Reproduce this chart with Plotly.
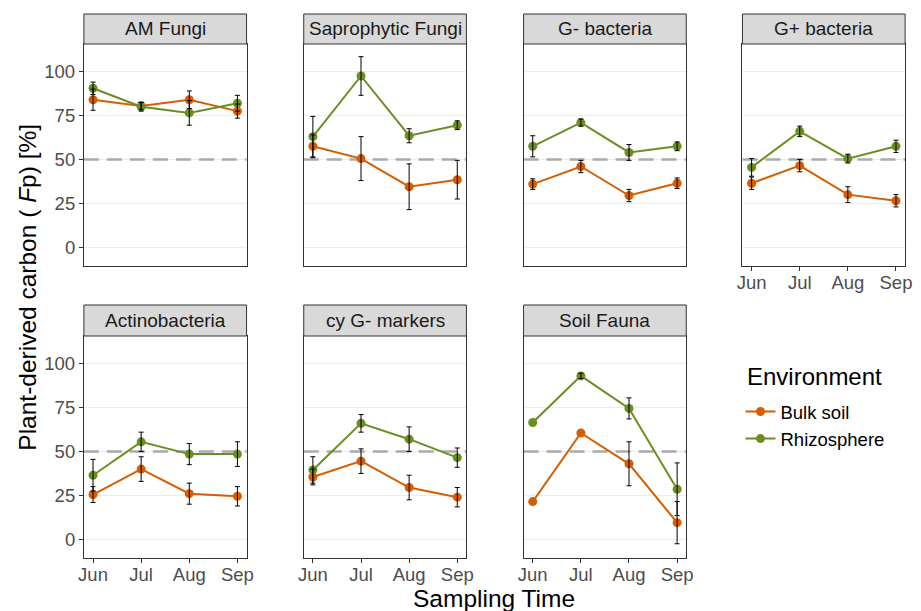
import plotly.graph_objects as go

months = ["Jun", "Jul", "Aug", "Sep"]
panels = ["AM Fungi", "Saprophytic Fungi", "G- bacteria", "G+ bacteria",
          "Actinobacteria", "cy G- markers", "Soil Fauna"]

am_bulk = [84, 80.5, 84, 77.5]
am_bulk_err = [6, 2, 5, 4]
am_rhizo = [90.5, 80, 76.5, 82]
am_rhizo_err = [3.5, 2.5, 7, 4.5]

sap_bulk = [57.5, 50.5, 34.5, 38.5]
sap_bulk_err = [6.5, 12.5, 13, 11]
sap_rhizo = [63, 97.5, 63.5, 69.5]
sap_rhizo_err = [11.5, 11, 4, 2.5]

gneg_bulk = [36, 46, 29.5, 36.5]
gneg_bulk_err = [3, 3.5, 3.5, 3]
gneg_rhizo = [57.5, 71, 54, 57.5]
gneg_rhizo_err = [6, 2, 4.5, 2.5]

gpos_bulk = [36.5, 46.5, 30, 26.5]
gpos_bulk_err = [3.5, 3.5, 4.5, 3.5]
gpos_rhizo = [45.5, 66, 50.5, 57.5]
gpos_rhizo_err = [5, 3, 2.5, 3.5]

act_bulk = [25.5, 40, 26, 24.5]
act_bulk_err = [4.5, 7, 6, 5.5]
act_rhizo = [36.5, 55.5, 48.5, 48.5]
act_rhizo_err = [9, 5.5, 6, 7]

cyg_bulk = [35.5, 44.5, 29.5, 24]
cyg_bulk_err = [4.5, 7, 7, 5.5]
cyg_rhizo = [39.5, 66, 57, 46.5]
cyg_rhizo_err = [7.5, 5, 7, 5.5]

fauna_bulk = [21.5, 60.5, 43, 9.5]
fauna_bulk_err = [None, None, 12.5, 12]
fauna_rhizo = [66.5, 93, 74.5, 28.5]
fauna_rhizo_err = [None, 1.5, 6, 15]

bulk = [am_bulk, sap_bulk, gneg_bulk, gpos_bulk, act_bulk, cyg_bulk, fauna_bulk]
bulk_err = [am_bulk_err, sap_bulk_err, gneg_bulk_err, gpos_bulk_err, act_bulk_err, cyg_bulk_err, fauna_bulk_err]
rhizo = [am_rhizo, sap_rhizo, gneg_rhizo, gpos_rhizo, act_rhizo, cyg_rhizo, fauna_rhizo]
rhizo_err = [am_rhizo_err, sap_rhizo_err, gneg_rhizo_err, gpos_rhizo_err, act_rhizo_err, cyg_rhizo_err, fauna_rhizo_err]

reference_line = 50
y_ticks = [0, 25, 50, 75, 100]

W, H = 921, 611
FONT = "Liberation Sans, Arial, sans-serif"
C_BULK = "#D55E00"
C_RHIZO = "#6B8E23"

cols = [(79, 244), (302, 467), (525, 690), (747, 912)]
rows = [(44, 266, 14), (336, 558, 305)]  # plot top, plot bottom, strip top

def fx(px):
    return px / W

def fy(px):
    return 1 - px / H

fig = go.Figure()
shapes = []
annotations = []

for i, name in enumerate(panels):
    r, c = divmod(i, 4)
    x0, x1 = cols[c]
    top, bot, stop = rows[r]
    n = i + 1
    xa = "xaxis" if n == 1 else f"xaxis{n}"
    ya = "yaxis" if n == 1 else f"yaxis{n}"
    xr = "x" if n == 1 else f"x{n}"
    yr = "y" if n == 1 else f"y{n}"
    show_x = (r == 1) or (i == 3)
    show_y = (c == 0)
    fig.layout[xa] = dict(
        domain=[fx(x0), fx(x1)], anchor=yr, type="category",
        categoryorder="array", categoryarray=months,
        range=[-0.19, 3.19], showgrid=False, zeroline=False,
        showline=True, mirror=True, linecolor="#333333", linewidth=1,
        ticks="outside" if show_x else "", ticklen=4, tickcolor="#333333",
        showticklabels=show_x, ticklabelstandoff=-4,
        tickfont=dict(family=FONT, size=18.5, color="#4D4D4D"),
        fixedrange=True,
    )
    fig.layout[ya] = dict(
        domain=[fy(bot), fy(top)], anchor=xr,
        range=[-10.6, 115.7], tickvals=y_ticks,
        showgrid=False, zeroline=False,
        showline=True, mirror=True, linecolor="#333333", linewidth=1,
        ticks="outside" if show_y else "", ticklen=4, tickcolor="#333333",
        showticklabels=show_y,
        tickfont=dict(family=FONT, size=18.5, color="#4D4D4D"),
        fixedrange=True,
    )
    # horizontal grid lines
    for t in y_ticks:
        shapes.append(dict(type="line", xref=f"{xr} domain", yref=yr,
                           x0=0, x1=1, y0=t, y1=t,
                           line=dict(color="#EBEBEB", width=1), layer="below"))
    # dashed 50% reference
    shapes.append(dict(type="line", xref=f"{xr} domain", yref=yr,
                       x0=0, x1=1, y0=reference_line, y1=reference_line,
                       line=dict(color="#AAAAAA", width=2.5, dash="15px,8px"),
                       layer="below"))
    # strip
    shapes.append(dict(type="rect", xref="paper", yref="paper",
                       x0=fx(x0), x1=fx(x1), y0=fy(top), y1=fy(stop),
                       fillcolor="#D9D9D9", line=dict(color="#333333", width=1),
                       layer="above"))
    annotations.append(dict(text=name, xref="paper", yref="paper",
                            x=fx((x0 + x1) / 2), y=fy((top + stop) / 2),
                            xanchor="center", yanchor="middle", showarrow=False,
                            font=dict(family=FONT, size=19, color="#1A1A1A")))

    for label, vals, col in [("Bulk soil", bulk[i], C_BULK),
                             ("Rhizosphere", rhizo[i], C_RHIZO)]:
        fig.add_trace(go.Scatter(
            x=months, y=vals, mode="lines+markers", name=label,
            legendgroup=label, showlegend=(i == 0),
            line=dict(color=col, width=2),
            marker=dict(color=col, size=9),
            xaxis=xr, yaxis=yr, hoverinfo="skip"))
    for vals, errs in [(bulk[i], bulk_err[i]), (rhizo[i], rhizo_err[i])]:
        keep = [k for k, e in enumerate(errs) if e is not None]
        fig.add_trace(go.Scatter(
            x=[months[k] for k in keep], y=[vals[k] for k in keep],
            mode="markers", showlegend=False,
            marker=dict(color="rgba(0,0,0,0)", size=1),
            error_y=dict(type="data", array=[errs[k] for k in keep], visible=True,
                         color="#000000", thickness=1, width=2.5),
            xaxis=xr, yaxis=yr, hoverinfo="skip"))

annotations.append(dict(text="Sampling Time", xref="paper", yref="paper",
                        x=fx(495), y=fy(598), xanchor="center", yanchor="middle",
                        showarrow=False, font=dict(family=FONT, size=24.5, color="#000000")))
annotations.append(dict(text="Plant-derived carbon ( <i>F</i>p) [%]", xref="paper", yref="paper",
                        x=fx(21), y=fy(287), xanchor="center", yanchor="middle",
                        textangle=-90, showarrow=False,
                        font=dict(family=FONT, size=24.5, color="#000000")))
annotations.append(dict(text="Environment", xref="paper", yref="paper",
                        x=fx(750), y=fy(376), xanchor="left", yanchor="middle",
                        showarrow=False, font=dict(family=FONT, size=24, color="#000000")))

fig.update_layout(
    width=W, height=H,
    margin=dict(l=0, r=0, t=0, b=0),
    paper_bgcolor="white", plot_bgcolor="white",
    shapes=shapes, annotations=annotations,
    showlegend=True,
    legend=dict(x=fx(745), y=fy(393), xanchor="left", yanchor="top",
                font=dict(family=FONT, size=18.5, color="#000000"),
                bgcolor="rgba(0,0,0,0)", itemwidth=30, tracegroupgap=0),
    font=dict(family=FONT),
)

fig.write_html("out.html")
